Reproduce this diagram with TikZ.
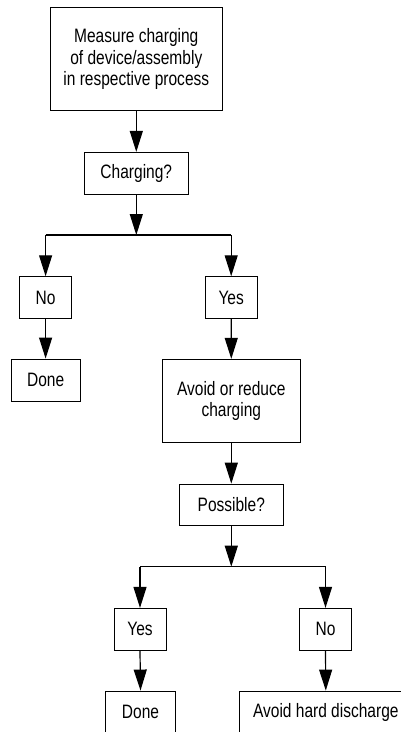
\documentclass[tikz,border=0pt]{standalone}
\usepackage{fontspec}
\setmainfont{Liberation Sans}[FakeStretch=0.8]
\usetikzlibrary{arrows.meta}
\begin{document}
\begin{tikzpicture}[x=1pt,y=-1pt,
  box/.style={draw=black,line width=0.9pt,inner sep=0pt,align=center,
    font=\fontsize{19.4pt}{21.5pt}\selectfont},
  conn/.style={line width=1.2pt,-{Triangle[length=21pt,width=13pt]}},
  bar/.style={line width=1.3pt}]
\useasboundingbox (0,0) rectangle (401,732);
\clip (0,0) rectangle (401,732);
\node[box,minimum width=172.7pt,minimum height=103.4pt] (m) at (136.3,59) {Measure charging\\of device/assembly\\in respective process};
\node[box,minimum width=104pt,minimum height=41.7pt] (c) at (136.3,173.2) {Charging?};
\coordinate (j1) at (136.3,235);
\node[box,minimum width=51.6pt,minimum height=41.6pt] (n1) at (45.6,297.5) {No};
\node[box,minimum width=69pt,minimum height=42pt] (d1) at (45.6,380) {Done};
\node[box,minimum width=51.7pt,minimum height=41.6pt] (y1) at (231.2,297.5) {Yes};
\node[box,minimum width=138pt,minimum height=83pt] (a) at (231.3,400.8) {Avoid or reduce\\charging};
\node[box,minimum width=104pt,minimum height=41.3pt] (p) at (231.3,504.7) {Possible?};
\coordinate (j2) at (231.3,566.7);
\node[box,minimum width=52pt,minimum height=41.7pt] (y2) at (140,629.2) {Yes};
\node[box,minimum width=51.7pt,minimum height=41.7pt] (n2) at (325.5,629.2) {No};
\node[box,minimum width=69.3pt,minimum height=42pt] (d2) at (140.5,712) {Done};
\node[box,minimum width=172pt,minimum height=42pt] (h) at (325.8,712) {Avoid hard discharge};
\draw[conn] (m.south) -- (c.north);
\draw[conn] (c.south) -- (j1);
\draw[bar] (n1.north |- j1) -- (y1.north |- j1);
\draw[conn] (n1.north |- j1) -- (n1.north);
\draw[conn] (y1.north |- j1) -- (y1.north);
\draw[conn] (n1.south) -- (d1.north);
\draw[conn] (y1.south) -- (a.north);
\draw[conn] (a.south) -- (p.north);
\draw[conn] (p.south) -- (j2);
\draw[bar] (y2.north |- j2) -- (n2.north |- j2);
\draw[conn] (y2.north |- j2) -- (y2.north);
\draw[conn] (n2.north |- j2) -- (n2.north);
\draw[conn] (y2.south) -- (d2.north);
\draw[conn] (n2.south) -- (h.north);
\end{tikzpicture}
\end{document}
